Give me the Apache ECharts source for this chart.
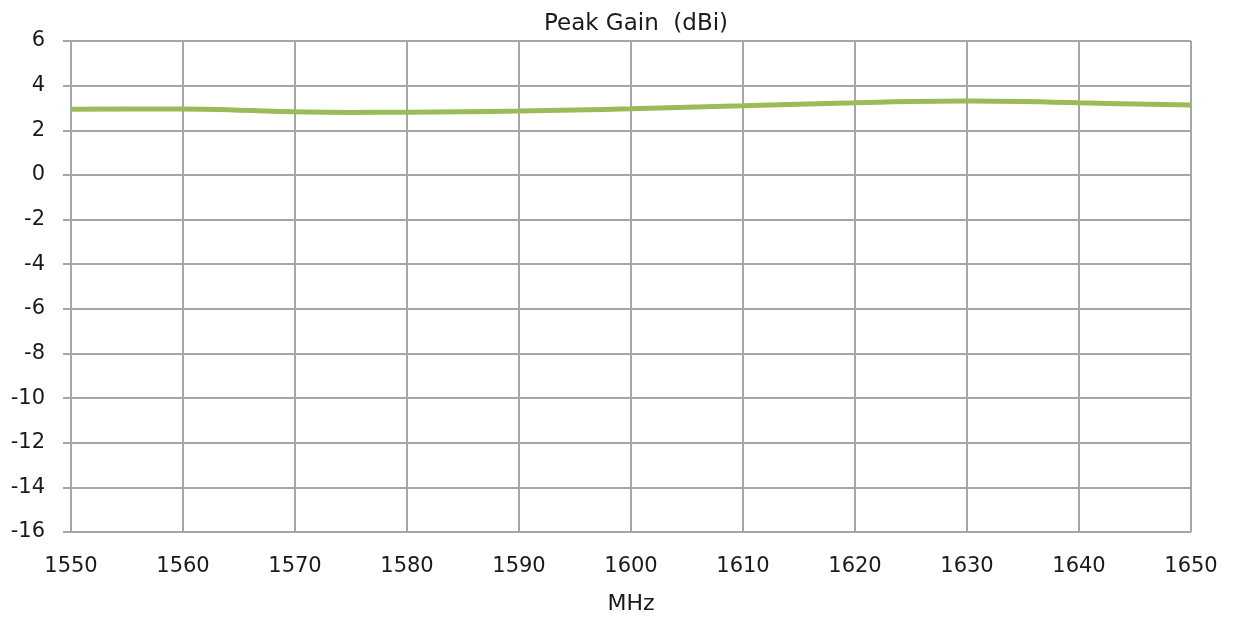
<!DOCTYPE html>
<html>
<head>
<meta charset="utf-8">
<script src="https://cdn.jsdelivr.net/npm/echarts@6/dist/echarts.min.js"></script>
<style>html,body{margin:0;padding:0;background:#fff}#c{width:1237px;height:618px}</style>
</head>
<body>
<div id="c"></div>
<script>
const freqs = [1550, 1555, 1560, 1565, 1570, 1575, 1580, 1585, 1590, 1595, 1600, 1605, 1610, 1615, 1620, 1625, 1630, 1635, 1640, 1645, 1650];
const gains = [2.94, 2.95, 2.95, 2.90, 2.83, 2.80, 2.81, 2.83, 2.86, 2.91, 2.96, 3.03, 3.10, 3.17, 3.23, 3.29, 3.31, 3.29, 3.23, 3.18, 3.13];
const titleText = 'Peak Gain  (dBi)';
const xName = 'MHz';

const font = '"DejaVu Sans", Verdana, sans-serif';
const chart = echarts.init(document.getElementById('c'));
chart.setOption({
  animation: false,
  backgroundColor: '#fff',
  title: {
    text: titleText, left: 631, top: 8, textAlign: 'center',
    textStyle: {fontFamily: font, fontSize: 23, fontWeight: 'normal', color: '#1a1a1a'}
  },
  grid: {left: 71, right: 46, top: 41, bottom: 86, containLabel: false, outerBoundsMode: 'none'},
  xAxis: {
    type: 'value', min: 1550, max: 1650, interval: 10,
    name: xName, nameLocation: 'middle', nameGap: 61,
    nameTextStyle: {fontFamily: font, fontSize: 22, color: '#1a1a1a'},
    axisLine: {show: true, lineStyle: {color: '#a6a6a6', width: 2}},
    axisTick: {show: false},
    axisLabel: {fontFamily: font, fontSize: 21, color: '#1a1a1a', margin: 24, formatter: v => String(v)},
    splitLine: {show: true, lineStyle: {color: '#a6a6a6', width: 2}}
  },
  yAxis: {
    type: 'value', min: -16, max: 6, interval: 2,
    axisLine: {show: true, lineStyle: {color: '#a6a6a6', width: 2}},
    axisTick: {show: true, length: 8, lineStyle: {color: '#a6a6a6', width: 2}},
    axisLabel: {fontFamily: font, fontSize: 21, color: '#1a1a1a', margin: 26, formatter: v => String(v)},
    splitLine: {show: true, lineStyle: {color: '#a6a6a6', width: 2}}
  },
  series: [{
    type: 'line', smooth: true, showSymbol: false,
    data: freqs.map((f, i) => [f, gains[i]]),
    lineStyle: {color: '#9bbb59', width: 5},
    itemStyle: {color: '#9bbb59'}
  }]
});
</script>
</body>
</html>
